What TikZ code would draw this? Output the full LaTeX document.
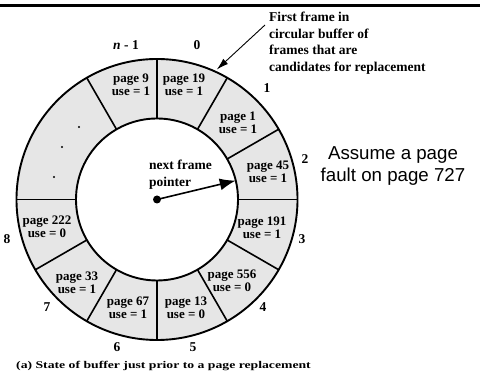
\documentclass[tikz,border=0pt]{standalone}
\usepackage{fontspec}
\setmainfont{Liberation Serif}
\newfontfamily\arialfont{Liberation Sans}
\usetikzlibrary{arrows.meta}
\definecolor{ringgray}{HTML}{E6E6E6}
\begin{document}
\begin{tikzpicture}[x=1pt,y=1pt,
  lbl/.style={font=\fontsize{13.5}{13.5}\selectfont\bfseries, inner sep=0pt},
  pg/.style={font=\fontsize{13}{12.7}\selectfont\bfseries, align=center, inner sep=0pt},
  ringline/.style={line width=1.9pt},
  divider/.style={line width=1.6pt},
  note/.style={font=\fontsize{13.5}{16.5}\selectfont\bfseries, align=left, inner sep=0pt},
  sansnote/.style={font=\arialfont\fontsize{18.7}{22}\selectfont, align=center, inner sep=0pt}]
\useasboundingbox (0,0) rectangle (480,374);
% top rule
\coordinate (tl) at (0,368.5);
\coordinate (tr) at (480,368.5);
\draw[line width=2.8pt] (tl) -- (tr);
% ring
\coordinate (C) at (157,174.5);
\fill[ringgray, even odd rule] (C) circle (140.5) (C) circle (81);
\draw[ringline] (C) circle (140.5);
\draw[ringline] (C) circle (81);
\foreach \a in {0,30,60,90,120,180,210,240,270,300,330}
  \draw[divider] ([shift={(\a:81)}]C) -- ([shift={(\a:140.5)}]C);
% frame numbers
\node[lbl] (l0) at (197,329) {0};
\node[lbl] (l1) at (267,286) {1};
\node[lbl] (l2) at (305,215) {2};
\node[lbl] (l3) at (302,135) {3};
\node[lbl] (l4) at (263,67) {4};
\node[lbl] (l5) at (193,27) {5};
\node[lbl] (l6) at (117,27) {6};
\node[lbl] (l7) at (47,67) {7};
\node[lbl] (l8) at (7,135) {8};
\node[lbl] (ln) at (126,329) {\textit{n} - 1};
% page entries
\node[pg] (p19) at (184,289) {page 19\\use = 1};
\node[pg] (p9) at (131,289) {page 9\\use = 1};
\node[pg] (p1) at (238,251.5) {page 1\\use = 1};
\node[pg] (p45) at (268,202.3) {page 45\\use = 1};
\node[pg] (p191) at (262,146) {page 191\\use = 1};
\node[pg] (p556) at (232,93) {page 556\\use = 0};
\node[pg] (p13) at (186,66) {page 13\\use = 0};
\node[pg] (p67) at (128,66) {page 67\\use = 1};
\node[pg] (p33) at (77,91) {page 33\\use = 1};
\node[pg] (p222) at (47,147) {page 222\\use = 0};
% dots
\fill (79,247) circle (1.2);
\fill (62,227) circle (1.2);
\fill (54,197) circle (1.2);
% pointer
\fill (C) circle (4);
\coordinate (ptip) at ([shift={(13.5:81)}]C);
\draw[line width=1.6pt, -{Latex[length=16pt,width=12pt]}] (C) -- (ptip);
\node[note, anchor=north west] (ptxt) at (149,214) {next frame\\pointer};
% annotation
\node[note, anchor=north west] (ann) at (269,362) {First frame in\\circular buffer of\\frames that are\\candidates for replacement};
\coordinate (astart) at (265,349);
\coordinate (aend) at ([shift={(65.3:143)}]C);
\draw[line width=0.9pt, -{Latex[length=12pt,width=7pt]}] (astart) -- (aend);
% side note
\node[sansnote] (assume) at (393,208) {Assume a page\\fault on page 727};
% caption
\node[inner sep=0pt, anchor=west] (cap) at (16,8) {\scalebox{1.33}[1]{\fontsize{10.3}{10.3}\selectfont\bfseries (a) State of buffer just prior to a page replacement}};
\end{tikzpicture}
\end{document}
